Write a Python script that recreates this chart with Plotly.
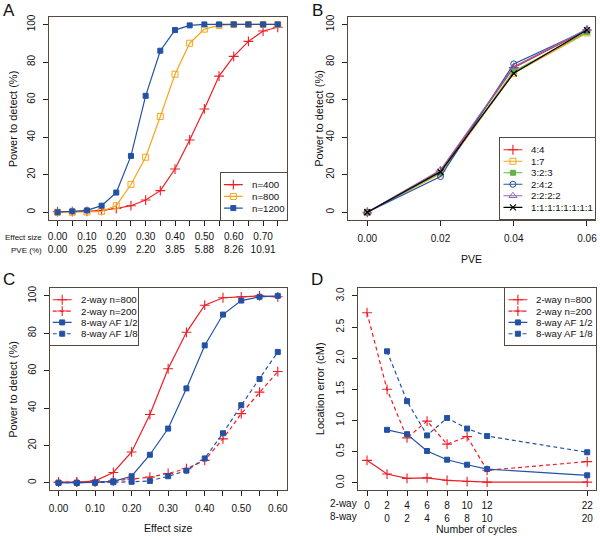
import plotly.graph_objects as go

# ---------------- Data ----------------
# Panel A: power vs effect size for three sample sizes
effect_A = [0.00, 0.05, 0.10, 0.15, 0.20, 0.25, 0.30, 0.35, 0.40, 0.45, 0.50, 0.55, 0.60, 0.65, 0.70, 0.75]
effect_A_labels = ["0.00", "", "0.10", "", "0.20", "", "0.30", "", "0.40", "", "0.50", "", "0.60", "", "0.70", ""]
pve_A_labels = ["0.00", "", "0.25", "", "0.99", "", "2.20", "", "3.85", "", "5.88", "", "8.26", "", "10.91", ""]
powA_n400 = [0.3, 0.3, 0.5, 1.0, 2.0, 3.5, 6.5, 11.5, 23.0, 38.5, 55.0, 72.5, 83.0, 91.0, 96.5, 98.5]
powA_n800 = [0.0, 0.0, 0.2, 0.5, 3.5, 14.8, 29.3, 51.0, 73.5, 90.0, 97.5, 99.5, 100, 100, 100, 100]
powA_n1200 = [0.0, 0.5, 1.0, 3.5, 10.5, 30.0, 62.0, 86.0, 97.0, 99.5, 100, 100, 100, 100, 100, 100]
names_A = ["n=400", "n=800", "n=1200"]

# Panel B: power vs PVE for founder proportions
pve_B = [0.00, 0.02, 0.04, 0.06]
powB_44 = [0.0, 22.0, 77.0, 97.0]
powB_17 = [0.0, 20.5, 74.0, 95.5]
powB_323 = [0.0, 21.0, 75.0, 96.0]
powB_242 = [0.0, 19.0, 79.0, 97.0]
powB_2222 = [0.0, 22.5, 77.5, 97.5]
powB_all1 = [0.0, 21.5, 74.0, 97.0]
names_B = ["4:4", "1:7", "3:2:3", "2:4:2", "2:2:2:2", "1:1:1:1:1:1:1:1"]

# Panel C: power vs effect size, 2-way vs 8-way
effect_C = [0.00, 0.05, 0.10, 0.15, 0.20, 0.25, 0.30, 0.35, 0.40, 0.45, 0.50, 0.55, 0.60]
effect_C_labels = ["0.00", "", "0.10", "", "0.20", "", "0.30", "", "0.40", "", "0.50", "", "0.60"]
powC_2w800 = [0.3, 0.3, 1.0, 5.5, 16.5, 36.5, 61.0, 80.5, 95.0, 99.0, 99.5, 100, 99.5]
powC_2w200 = [0.3, 0.3, 0.3, 1.0, 2.0, 3.0, 5.0, 7.5, 12.0, 23.5, 37.0, 48.5, 59.5]
powC_8w12 = [0.0, 0.0, 0.2, 0.8, 3.5, 15.0, 29.0, 50.5, 73.5, 90.0, 97.5, 99.5, 100]
powC_8w18 = [0.0, 0.0, 0.0, 0.3, 0.5, 1.0, 3.5, 6.5, 13.0, 26.5, 41.5, 55.5, 70.0]
names_CD = ["2-way n=800", "2-way n=200", "8-way AF 1/2", "8-way AF 1/8"]

# Panel D: location error vs number of cycles
cycles_2way = [0, 2, 4, 6, 8, 10, 12, 22]
cycles_8way = [0, 2, 4, 6, 8, 10, 20]
cycle_offset_8way = 2  # 8-way cycle 0 sits under 2-way cycle 2
errD_2w800 = [0.36, 0.14, 0.07, 0.08, 0.04, 0.02, 0.01, 0.01]
errD_2w200 = [2.73, 1.50, 0.72, 0.99, 0.62, 0.74, 0.20, 0.34]
errD_8w12 = [0.85, 0.78, 0.51, 0.37, 0.29, 0.22, 0.12]
errD_8w18 = [2.11, 1.31, 0.76, 1.04, 0.87, 0.75, 0.49]
D_tick_2way = ["0", "2", "4", "6", "8", "10", "12", "22"]
D_tick_8way = ["", "0", "2", "4", "6", "8", "10", "20"]

# ---------------- Style ----------------
W, H = 600, 536
FONT = "Liberation Sans, Arial, Helvetica, sans-serif"
RED = "#EE1D24"
ORANGE = "#F7A51C"
BLUE = "#2352A4"
GREEN = "#5DB548"
PURPLE = "#8C68B1"
BLACK = "#000000"
BOX = "#54483F"
DASH = "4px,3px"

# style per marker kind: (symbol, size, marker line width)
MK = {
    "plus": ("cross-thin", 7, 1.1),
    "osq": ("square-open", 6, 1.0),
    "sq": ("square", 5, 1.0),
    "ocirc": ("circle-open", 6, 1.0),
    "otri": ("triangle-up-open", 7, 1.0),
    "x": ("x-thin", 6, 1.1),
}


def px_x(p):
    return p / W


def px_y(p):
    return 1 - p / H


fig = go.Figure()


def add(x, y, name, color, mk, xa, ya, dash="solid"):
    sym, size, lw = MK[mk]
    fig.add_trace(go.Scatter(
        x=x, y=y, name=name, mode="lines+markers", showlegend=False,
        line=dict(color=color, width=1.2, dash=dash),
        marker=dict(symbol=sym, size=size, color=color, line=dict(color=color, width=lw)),
        xaxis=xa, yaxis=ya, cliponaxis=False,
    ))


specA = [(effect_A, powA_n400, RED, "plus", "solid"),
         (effect_A, powA_n800, ORANGE, "osq", "solid"),
         (effect_A, powA_n1200, BLUE, "sq", "solid")]
specB = [(pve_B, powB_44, RED, "plus", "solid"),
         (pve_B, powB_17, ORANGE, "osq", "solid"),
         (pve_B, powB_323, GREEN, "sq", "solid"),
         (pve_B, powB_242, BLUE, "ocirc", "solid"),
         (pve_B, powB_2222, PURPLE, "otri", "solid"),
         (pve_B, powB_all1, BLACK, "x", "solid")]
specC = [(effect_C, powC_2w800, RED, "plus", "solid"),
         (effect_C, powC_2w200, RED, "plus", DASH),
         (effect_C, powC_8w12, BLUE, "sq", "solid"),
         (effect_C, powC_8w18, BLUE, "sq", DASH)]
x8 = [c + cycle_offset_8way for c in cycles_8way]
specD = [(cycles_2way, errD_2w800, RED, "plus", "solid"),
         (cycles_2way, errD_2w200, RED, "plus", DASH),
         (x8, errD_8w12, BLUE, "sq", "solid"),
         (x8, errD_8w18, BLUE, "sq", DASH)]

for names, spec, xa, ya in [(names_A, specA, "x", "y"), (names_B, specB, "x2", "y2"),
                            (names_CD, specC, "x3", "y3"), (names_CD, specD, "x4", "y4")]:
    for name, (x, y, c, mk, d) in zip(names, spec):
        add(x, y, name, c, mk, xa, ya, dash=d)


def axis_common():
    return dict(showline=True, mirror=True, linecolor=BOX, linewidth=1,
                ticks="outside", ticklen=5, tickcolor="#222", tickwidth=1,
                showgrid=False, zeroline=False,
                tickfont=dict(family=FONT, size=10, color="#111"))


# Domains (pixel boxes)
A_x = [px_x(48), px_x(287)]
B_x = [px_x(349), px_x(597)]
C_x = [px_x(49), px_x(287)]
D_x = [px_x(359), px_x(598)]
top_y = [px_y(218), px_y(14)]
bot_y = [px_y(490), px_y(287)]

ytick_power = [0, 20, 40, 60, 80, 100]

layout_axes = {}
xa = axis_common()
xa.update(domain=A_x, range=[-0.03, 0.78], anchor="y",
          tickmode="array", tickvals=effect_A,
          ticktext=[f"{e}<br>{p}" if e else "" for e, p in zip(effect_A_labels, pve_A_labels)],
          ticklabelstandoff=2)
ya = axis_common()
ya.update(domain=top_y, range=[-4, 104], anchor="x", tickvals=ytick_power,
          tickangle=-90, ticklabelstandoff=4)

xb = axis_common()
xb.update(domain=B_x, range=[-0.0052, 0.0622], anchor="y2",
          tickvals=pve_B, ticktext=[f"{v:.2f}" for v in pve_B], ticklabelstandoff=4)
yb = axis_common()
yb.update(domain=top_y, range=[-4, 104], anchor="x2", tickvals=ytick_power,
          tickangle=-90, ticklabelstandoff=4)

xc = axis_common()
xc.update(domain=C_x, range=[-0.024, 0.624], anchor="y3",
          tickvals=effect_C, ticktext=effect_C_labels, ticklabelstandoff=4)
yc = axis_common()
yc.update(domain=bot_y, range=[-4, 104], anchor="x3", tickvals=ytick_power,
          tickangle=-90, ticklabelstandoff=4)

xd = axis_common()
xd.update(domain=D_x, range=[-0.88, 22.88], anchor="y4",
          tickvals=cycles_2way,
          ticktext=[f"{a}<br>{b if b else ' '}" for a, b in zip(D_tick_2way, D_tick_8way)],
          ticklabelstandoff=1)
yd = axis_common()
yd.update(domain=bot_y, range=[-0.12, 3.12], anchor="x4",
          tickvals=[0, 0.5, 1.0, 1.5, 2.0, 2.5, 3.0],
          ticktext=["0.0", "0.5", "1.0", "1.5", "2.0", "2.5", "3.0"],
          tickangle=-90, ticklabelstandoff=4)

layout_axes.update(xaxis=xa, yaxis=ya, xaxis2=xb, yaxis2=yb,
                   xaxis3=xc, yaxis3=yc, xaxis4=xd, yaxis4=yd)

annotations = []


def text(x, y, s, size=10, angle=0, xanchor="center", yanchor="middle"):
    annotations.append(dict(x=px_x(x), y=px_y(y), xref="paper", yref="paper",
                            text=s, showarrow=False, textangle=angle,
                            xanchor=xanchor, yanchor=yanchor,
                            font=dict(family=FONT, size=size, color="#111")))


# ---------------- R-style legend boxes (inset axes in pixel units) ----------------
LEG_LINE = (3, 22)   # sample line extent inside the box, px
LEG_MARK = 12.5      # sample marker position, px
LEG_TEXT = 29        # label start, px


def r_legend(n, box, names, spec):
    x0, x1, y0, y1 = box
    xid, yid = f"x{n}", f"y{n}"
    k = len(names)
    layout_axes[f"xaxis{n}"] = dict(domain=[px_x(x0), px_x(x1)], range=[0, x1 - x0], anchor=yid,
                                    showline=True, mirror=True, linecolor=BOX, linewidth=1,
                                    showticklabels=False, ticks="", showgrid=False, zeroline=False,
                                    fixedrange=True)
    layout_axes[f"yaxis{n}"] = dict(domain=[px_y(y1), px_y(y0)], range=[k, -1], anchor=xid,
                                    showline=True, mirror=True, linecolor=BOX, linewidth=1,
                                    showticklabels=False, ticks="", showgrid=False, zeroline=False,
                                    fixedrange=True)
    for i, (name, (_, _, c, mk, d)) in enumerate(zip(names, spec)):
        sym, size, lw = MK[mk]
        fig.add_trace(go.Scatter(x=list(LEG_LINE), y=[i, i], mode="lines", showlegend=False,
                                 line=dict(color=c, width=1.2, dash=d), hoverinfo="skip",
                                 xaxis=xid, yaxis=yid))
        fig.add_trace(go.Scatter(x=[LEG_MARK], y=[i], mode="markers", showlegend=False,
                                 marker=dict(symbol=sym, size=size, color=c, line=dict(color=c, width=lw)),
                                 hoverinfo="skip", xaxis=xid, yaxis=yid))
        annotations.append(dict(x=LEG_TEXT, y=i, xref=xid, yref=yid, text=name, showarrow=False,
                                xanchor="left", yanchor="middle",
                                font=dict(family=FONT, size=9.7, color="#111")))


r_legend(5, (221, 287, 171, 218), names_A, specA)
r_legend(6, (502, 597, 136, 217), names_B, specB)
r_legend(7, (49, 138, 287, 344), names_CD, specC)
r_legend(8, (507, 598, 287, 344), names_CD, specD)

# Panel letters
text(8, 8, "A", size=17)
text(318, 8, "B", size=17)
text(8, 278, "C", size=17)
text(318, 278, "D", size=17)

# Axis titles
text(12, 116, "Power to detect (%)", size=11, angle=-90)
text(320, 116, "Power to detect (%)", size=11, angle=-90)
text(12, 388, "Power to detect (%)", size=11, angle=-90)
text(320, 388, "Location error (cM)", size=11, angle=-90)
text(473, 257, "PVE", size=10.5)
text(168, 528, "Effect size", size=10.5)
text(478, 528.5, "Number of cycles", size=10.5)

# Row captions for two-row tick labels
text(43, 236, "Effect size", size=8, xanchor="right")
text(43, 249, "PVE (%)", size=8, xanchor="right")
text(360, 503, "2-way", size=10, xanchor="right")
text(360, 516, "8-way", size=10, xanchor="right")

fig.update_layout(
    width=W, height=H,
    margin=dict(l=0, r=0, t=0, b=0),
    paper_bgcolor="white", plot_bgcolor="white",
    font=dict(family=FONT, size=10, color="#111"),
    showlegend=False,
    annotations=annotations,
    **layout_axes,
)

fig.write_html(
    "out.html",
    config={"displayModeBar": False},
    post_script="document.body.style.margin='0';document.body.style.padding='0';"
                "document.body.style.overflow='hidden';",
)
